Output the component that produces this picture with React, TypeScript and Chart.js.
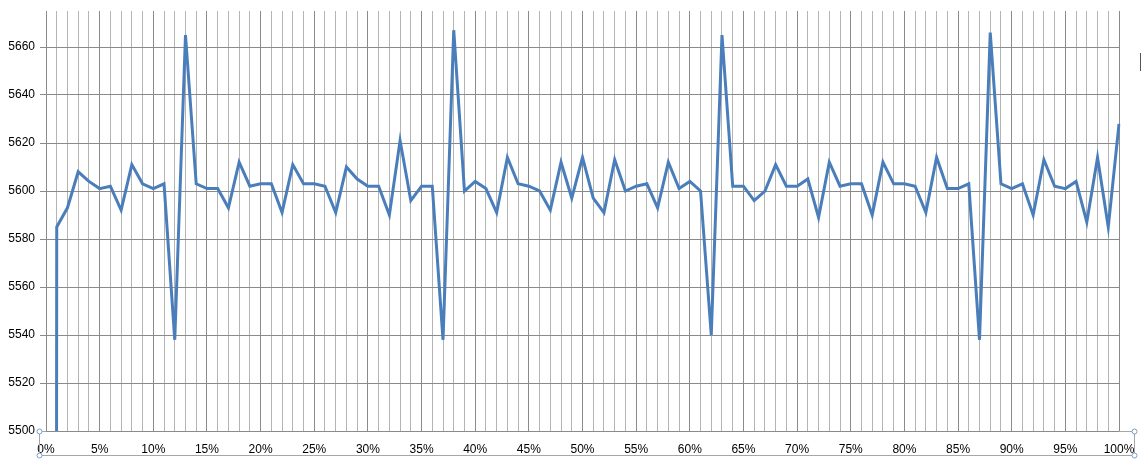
import React, { useEffect, useRef } from 'react';
import { Chart, registerables } from 'chart.js';

Chart.register(...registerables);

const categories: string[] = [
  '0%', '1%', '2%', '3%', '4%', '5%', '6%', '7%', '8%', '9%',
  '10%', '11%', '12%', '13%', '14%', '15%', '16%', '17%', '18%', '19%',
  '20%', '21%', '22%', '23%', '24%', '25%', '26%', '27%', '28%', '29%',
  '30%', '31%', '32%', '33%', '34%', '35%', '36%', '37%', '38%', '39%',
  '40%', '41%', '42%', '43%', '44%', '45%', '46%', '47%', '48%', '49%',
  '50%', '51%', '52%', '53%', '54%', '55%', '56%', '57%', '58%', '59%',
  '60%', '61%', '62%', '63%', '64%', '65%', '66%', '67%', '68%', '69%',
  '70%', '71%', '72%', '73%', '74%', '75%', '76%', '77%', '78%', '79%',
  '80%', '81%', '82%', '83%', '84%', '85%', '86%', '87%', '88%', '89%',
  '90%', '91%', '92%', '93%', '94%', '95%', '96%', '97%', '98%', '99%',
  '100%',
];

const seriesValues: number[] = [
  0, 5585, 5593, 5608, 5604, 5601, 5602, 5592, 5611, 5603,
  5601, 5603, 5538, 5665, 5603, 5601, 5601, 5593, 5612, 5602,
  5603, 5603, 5591, 5611, 5603, 5603, 5602, 5591, 5610, 5605,
  5602, 5602, 5590, 5621, 5596, 5602, 5602, 5538, 5667, 5600,
  5604, 5601, 5591, 5614, 5603, 5602, 5600, 5592, 5612, 5597,
  5614, 5597, 5591, 5613, 5600, 5602, 5603, 5593, 5612, 5601,
  5604, 5600, 5540, 5665, 5602, 5602, 5596, 5600, 5611, 5602,
  5602, 5605, 5589, 5612, 5602, 5603, 5603, 5590, 5612, 5603,
  5603, 5602, 5591, 5614, 5601, 5601, 5603, 5538, 5666, 5603,
  5601, 5603, 5590, 5613, 5602, 5601, 5604, 5587, 5614, 5585,
  5628,
];

const yMin = 5500;
const yMax = 5675;
const yStep = 20;
const labelEvery = 5;

const decorPlugin = {
  id: 'decor',
  afterDraw(chart: any) {
    const ctx = chart.ctx;
    const area = chart.chartArea;
    ctx.save();
    // selection frame around the category axis
    const x0 = 39.5;
    const x1 = 1134.5;
    const y0 = area.bottom + 0.5;
    const y1 = 455.5;
    ctx.strokeStyle = '#a6a6a6';
    ctx.lineWidth = 1;
    ctx.beginPath();
    ctx.moveTo(x0, y0);
    ctx.lineTo(x0, y1);
    ctx.lineTo(x1, y1);
    ctx.lineTo(x1, y0);
    ctx.lineTo(area.right, y0);
    ctx.moveTo(area.left, y0);
    ctx.lineTo(x0, y0);
    ctx.stroke();
    const handles = [
      [x0, y0],
      [x0, y1],
      [x1, y0],
      [x1, y1],
    ];
    for (const [hx, hy] of handles) {
      ctx.beginPath();
      ctx.arc(hx, hy, 2.5, 0, Math.PI * 2);
      ctx.fillStyle = '#ffffff';
      ctx.fill();
      ctx.strokeStyle = '#7a9cc6';
      ctx.stroke();
    }
    // edge of the cut-off legend
    ctx.strokeStyle = '#555555';
    ctx.beginPath();
    ctx.moveTo(1140.5, 53);
    ctx.lineTo(1140.5, 71);
    ctx.stroke();
    ctx.restore();
  },
};

export default function App() {
  const canvasRef = useRef<HTMLCanvasElement | null>(null);

  useEffect(() => {
    if (!canvasRef.current) return;
    const chart = new Chart(canvasRef.current, {
      type: 'line',
      data: {
        labels: categories,
        datasets: [
          {
            label: 'Series1',
            data: seriesValues,
            borderColor: '#4a7ebb',
            backgroundColor: '#4a7ebb',
            borderWidth: 3,
            pointRadius: 0,
            tension: 0,
            fill: false,
          },
        ],
      },
      options: {
        animation: false,
        responsive: true,
        maintainAspectRatio: false,
        layout: { padding: { top: 11, right: 22, left: 0, bottom: 0 } },
        plugins: {
          legend: { display: false },
          tooltip: { enabled: false },
        },
        scales: {
          x: {
            type: 'category',
            offset: false,
            afterFit: (scale: any) => {
              scale.height = 30;
              scale.paddingLeft = 0;
              scale.paddingRight = 0;
            },
            grid: {
              drawTicks: false,
              color: (c: any) => (c.index % labelEvery === 0 ? '#8a8a8a' : '#b4b4b4'),
              lineWidth: 1,
            },
            border: { color: '#8a8a8a', width: 1 },
            ticks: {
              autoSkip: false,
              maxRotation: 0,
              minRotation: 0,
              padding: 11,
              color: '#000000',
              font: { family: 'Liberation Sans', size: 12 },
              callback: (_v: any, i: number) => (i % labelEvery === 0 ? categories[i] : ''),
            },
          },
          y: {
            type: 'linear',
            min: yMin,
            max: yMax,
            afterFit: (scale: any) => {
              scale.width = 46;
              scale.paddingTop = 0;
              scale.paddingBottom = 0;
            },
            grid: {
              color: '#8a8a8a',
              lineWidth: 1,
              tickLength: 6,
            },
            border: { color: '#8a8a8a', width: 1 },
            ticks: {
              stepSize: yStep,
              includeBounds: false,
              padding: 5,
              color: '#000000',
              font: { family: 'Liberation Sans', size: 12 },
              callback: (v: any) => String(v),
            },
          },
        },
      },
      plugins: [decorPlugin],
    });
    return () => chart.destroy();
  }, []);

  return (
    <div style={{ position: 'absolute', left: 0, top: 0, width: 1141, height: 461, background: '#ffffff' }}>
      <canvas ref={canvasRef} />
    </div>
  );
}
